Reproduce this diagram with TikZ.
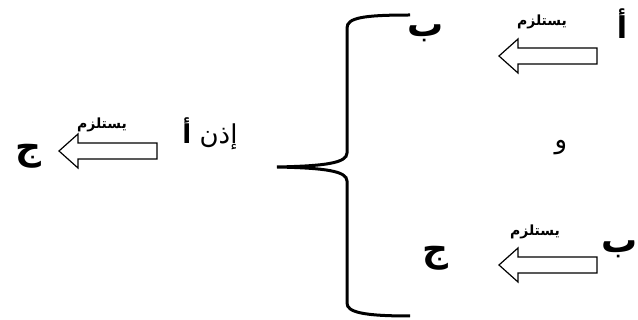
\documentclass[tikz,border=0pt]{standalone}
\usepackage{fontspec}
\TeXXeTstate=1
\newfontfamily\arabicfont[Script=Arabic]{DejaVu Sans}
\begin{document}
\begin{tikzpicture}[x=1pt,y=-1pt,
  big/.style={font=\arabicfont\bfseries\fontsize{36}{38}\selectfont, inner sep=0pt},
  alef/.style={font=\arabicfont\bfseries\fontsize{30}{32}\selectfont, inner sep=0pt},
  small/.style={font=\arabicfont\bfseries\fontsize{14}{16}\selectfont, inner sep=0pt},
  mid/.style={font=\arabicfont\fontsize{26}{28}\selectfont, inner sep=0pt},
  blockarrow/.pic={\draw[line width=1.2pt, line join=miter] (0,0) -- (19,-17) -- (19,-8) -- (98,-8) -- (98,8) -- (19,8) -- (19,17) -- cycle;},
  brace/.style={line width=3pt}]
\useasboundingbox (0,0) rectangle (638,320);
% brace
\draw[brace] (410,15) .. controls (362,15) and (347,18) .. (347,28) -- (347,153)
  .. controls (347,163) and (325,166) .. (277,167)
  .. controls (325,168) and (347,171) .. (347,181) -- (347,303)
  .. controls (347,312) and (362,316) .. (410,316);
% arrows
\pic at (499,56) {blockarrow};
\pic at (499,265) {blockarrow};
\pic at (59,151) {blockarrow};
% texts
\node[alef] (a1) at (622,24) {\beginR أ\endR};
\node[small] (s1) at (542,22) {\beginR يستلزم\endR};
\node[big] (b1) at (426,33) {\beginR ب\endR};
\node[mid] (w) at (561,148) {\beginR و\endR};
\node[big] (b2) at (620,249) {\beginR ب\endR};
\node[small] (s2) at (535,232) {\beginR يستلزم\endR};
\node[big] (j1) at (435,258) {\beginR ج\endR};
\node[mid] (idh) at (210,134) {\beginR إذن \textbf{أ}\endR};
\node[small] (s3) at (102,125) {\beginR يستلزم\endR};
\node[big] (j2) at (28,156) {\beginR ج\endR};
\end{tikzpicture}
\end{document}
